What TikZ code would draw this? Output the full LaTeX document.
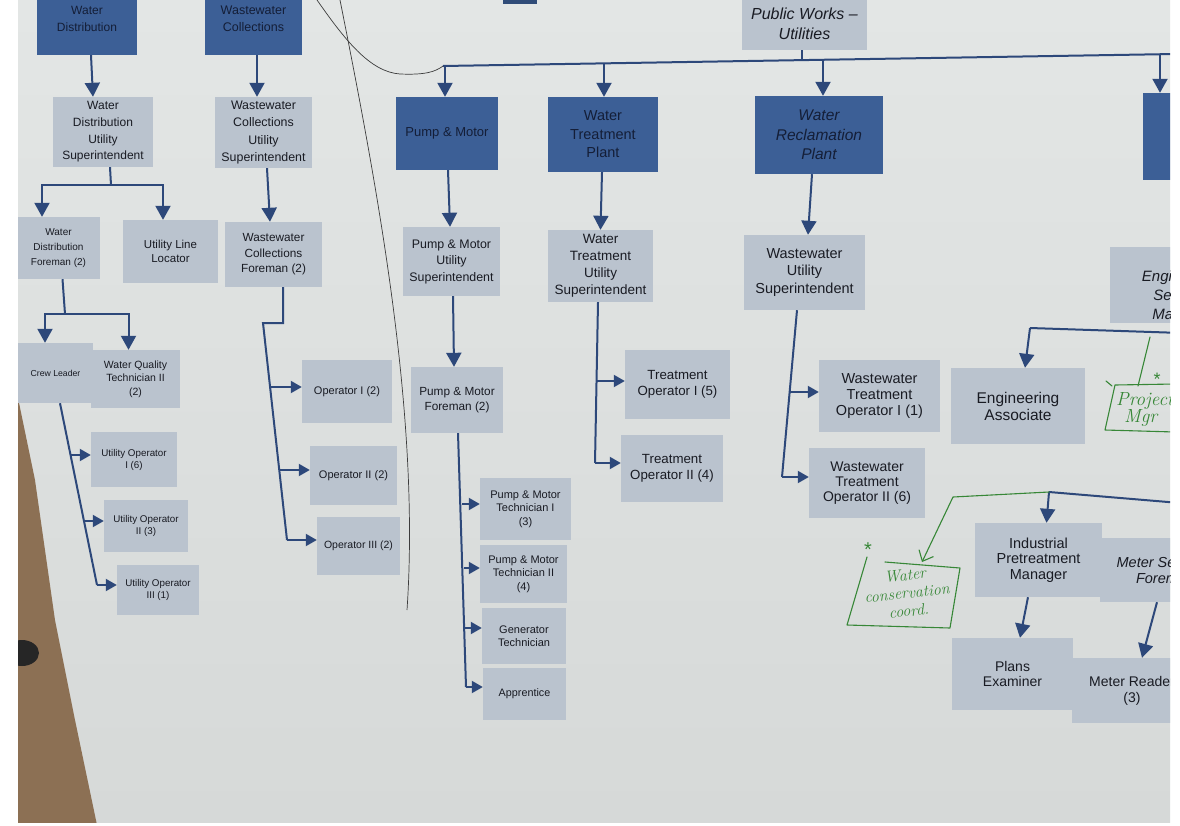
\documentclass[tikz,border=0pt]{standalone}
\usepackage{fontspec}
\setmainfont{Liberation Sans}
\usetikzlibrary{arrows.meta,calc}
\definecolor{paper}{RGB}{227,230,229}
\definecolor{paperlo}{RGB}{214,217,216}
\definecolor{lbox}{RGB}{186,195,206}
\definecolor{dbox}{RGB}{60,95,150}
\definecolor{lnc}{RGB}{45,72,122}
\definecolor{txt}{RGB}{25,27,35}
\definecolor{dtxt}{RGB}{20,30,55}
\definecolor{grn}{RGB}{55,135,55}
\definecolor{brn}{RGB}{140,112,84}
\definecolor{pencil}{RGB}{60,60,60}
\tikzset{
  lb/.style={fill=lbox, draw=none, inner sep=1pt, align=center, text=txt},
  db/.style={fill=dbox, draw=none, inner sep=1pt, align=center, text=dtxt},
  fs/.style 2 args={font=\fontsize{#1}{#2}\selectfont},
  fsi/.style 2 args={font=\fontsize{#1}{#2}\selectfont\itshape},
  conn/.style={draw=lnc, line width=2pt},
  arrL/.style={conn, -{Triangle[width=15pt,length=14pt]}},
  arrS/.style={conn, -{Triangle[width=12pt,length=11pt]}},
  hand/.style={draw=grn, line width=1.1pt, line cap=round, line join=round},
  handtext/.style={text=grn, font=\fontfamily{lmr}\fontsize{16}{18}\selectfont\itshape, align=center, inner sep=0pt},
  pen/.style={draw=pencil, line width=0.7pt},
}
\newcommand\obox[7]{\node[#6, minimum width={(#4)-(#2)}, minimum height={(#5)-(#3)}] (#1) at ({((#2)+(#4))/2},{((#3)+(#5))/2}) {#7};}
\begin{document}
\begin{tikzpicture}[x=1pt,y=-1pt]
\useasboundingbox (0,0) rectangle (1180,825);
\fill[white] (0,0) rectangle (1180,825);
\begin{scope}
\clip (18,0) rectangle (1170,822);
\shade[top color=paper, bottom color=paperlo] (18,0) rectangle (1170,822);
% cardboard
\fill[brn] (18,398) -- (35,480) -- (55,620) -- (75,720) -- (97,825) -- (18,825) -- cycle;
\fill[black!85] (22,653) ellipse [x radius=17, y radius=13];
% pencil marks
\draw[pen] (340,0) .. controls (380,200) and (420,420) .. (407,610);
\fill[dbox!80!black] (503,0) rectangle (537,4);

% ---------- boxes ----------
\obox{wd}{37}{-18}{137}{55}{db,fs={12}{17}}{Water\\Distribution}
\obox{wc}{205}{-18}{302}{55}{db,fs={12.5}{17}}{Wastewater\\Collections}
\obox{wdsup}{53}{97}{153}{167}{lb,fs={12}{16.7}}{Water\\Distribution\\Utility\\Superintendent}
\obox{wcsup}{215}{97}{312}{168}{lb,fs={12.4}{17.5}}{Wastewater\\Collections\\Utility\\Superintendent}
\obox{wdfor}{17}{217}{100}{279}{lb,fs={10}{15}}{Water\\Distribution\\Foreman (2)}
\obox{ull}{123}{220}{218}{283}{lb,fs={11.5}{14.5}}{Utility Line\\Locator}
\obox{wcfor}{225}{222}{322}{287}{lb,fs={11.8}{15.5}}{Wastewater\\Collections\\Foreman (2)}
\obox{crew}{18}{343}{93}{403}{lb,fs={8.7}{11}}{Crew Leader}
\obox{wqt}{91}{350}{180}{408}{lb,fs={10.5}{13.3}}{Water Quality\\Technician II\\(2)}
\obox{uo1}{91}{432}{177}{487}{lb,fs={9.8}{12}}{Utility Operator\\I (6)}
\obox{uo2}{104}{500}{188}{552}{lb,fs={9.8}{12}}{Utility Operator\\II (3)}
\obox{uo3}{117}{565}{199}{615}{lb,fs={9.8}{12}}{Utility Operator\\III (1)}
\obox{op1}{302}{360}{392}{423}{lb,fs={11}{14}}{Operator I (2)}
\obox{op2}{310}{446}{397}{505}{lb,fs={11}{14}}{Operator II (2)}
\obox{op3}{317}{517}{400}{575}{lb,fs={10.5}{14}}{Operator III (2)}

\obox{pw}{742}{-2}{867}{50}{lb,fsi={16}{20}}{Public Works --\\Utilities}
\obox{pm}{396}{97}{498}{170}{db,fs={13}{18}}{Pump \& Motor}
\obox{wtp}{548}{97}{658}{172}{db,fs={14.5}{18.5}}{Water\\Treatment\\Plant}
\obox{wrp}{755}{96}{883}{174}{db,fsi={15.5}{19.5}}{Water\\Reclamation\\Plant}
\obox{rdark}{1143}{93}{1250}{180}{db}{}
\obox{pmsup}{403}{227}{500}{296}{lb,fs={12.4}{16.5}}{Pump \& Motor\\Utility\\Superintendent}
\obox{wtsup}{548}{230}{653}{302}{lb,fs={13.5}{17}}{Water\\Treatment\\Utility\\Superintendent}
\obox{wwsup}{744}{235}{865}{310}{lb,fs={14.5}{17.5}}{Wastewater\\Utility\\Superintendent}
\obox{esm}{1110}{247}{1250}{323}{lb}{}
\node[fsi={15}{19}, align=center, text=txt] (esmt) at (1182,297) {Engineering\\Services\\Manager};
\obox{pmfor}{411}{367}{503}{433}{lb,fs={11.8}{14.5}}{Pump \& Motor\\Foreman (2)}
\obox{pmt1}{480}{478}{571}{540}{lb,fs={11}{13.5}}{Pump \& Motor\\Technician I\\(3)}
\obox{pmt2}{480}{545}{567}{603}{lb,fs={11}{13.5}}{Pump \& Motor\\Technician II\\(4)}
\obox{gen}{482}{608}{566}{664}{lb,fs={11}{13}}{Generator\\Technician}
\obox{app}{483}{668}{566}{720}{lb,fs={10.8}{13}}{Apprentice}
\obox{to1}{625}{350}{730}{419}{lb,fs={13.3}{16}}{Treatment\\Operator I (5)}
\obox{to2}{621}{435}{723}{502}{lb,fs={13.3}{16}}{Treatment\\Operator II (4)}
\obox{wwto1}{819}{360}{940}{432}{lb,fs={14.5}{16}}{Wastewater\\Treatment\\Operator I (1)}
\obox{wwto2}{809}{448}{925}{518}{lb,fs={14}{15}}{Wastewater\\Treatment\\Operator II (6)}
\obox{ea}{951}{368}{1085}{444}{lb,fs={15.5}{17}}{Engineering\\Associate}
\obox{ipm}{975}{523}{1102}{597}{lb,fs={14.5}{15.5}}{Industrial\\Pretreatment\\Manager}
\obox{msf}{1100}{538}{1230}{602}{lb,fsi={14.5}{16}}{Meter Services\\Foreman}
\obox{pe}{952}{638}{1073}{710}{lb,fs={14}{15}}{Plans\\Examiner}
\obox{mr}{1072}{658}{1192}{723}{lb,fs={14}{16}}{Meter Reader\\(3)}

% ---------- connectors ----------
% left columns
\draw[arrL] ([xshift=4pt]wd.south) -- ([xshift=-10pt]wdsup.north);
\draw[arrL] ([xshift=3.5pt]wc.south) -- ([xshift=-6.5pt]wcsup.north);
\coordinate (j1) at (111,185);
\draw[conn] ([xshift=7pt]wdsup.south) -- (j1);
\draw[arrL] (j1) -| ([xshift=-16.5pt]wdfor.north);
\draw[arrL] (j1) -| ([xshift=-7.5pt]ull.north);
\draw[arrL] ([xshift=3.5pt]wcsup.south) -- ([xshift=-3.5pt]wcfor.north);
\coordinate (j2) at (65,314);
\draw[conn] ([xshift=4pt]wdfor.south) -- (j2);
\draw[arrL] (j2) -| ([xshift=-10.5pt]crew.north);
\draw[arrL] (j2) -| ([xshift=-7pt]wqt.north);
\coordinate (b1) at (70.6,455);
\coordinate (b2) at (84,521);
\coordinate (b3) at (97,585);
\draw[conn] ([xshift=4.5pt]crew.south) -- (b3);
\draw[arrS] (b1) -- (b1 -| uo1.west);
\draw[arrS] (b2) -- (b2 -| uo2.west);
\draw[arrS] (b3) -- (b3 -| uo3.west);
\coordinate (j3) at (283,323);
\coordinate (j4) at (263,323);
\coordinate (c1) at (270,387);
\coordinate (c2) at (279.3,470);
\coordinate (c3) at (287,540);
\draw[conn] ([xshift=9.5pt]wcfor.south) -- (j3) -- (j4) -- (c3);
\draw[arrS] (c1) -- (c1 -| op1.west);
\draw[arrS] (c2) -- (c2 -| op2.west);
\draw[arrS] (c3) -- (c3 -| op3.west);

% top bar
\coordinate (tl) at (443,66);
\coordinate (tr) at (1175,54);
\coordinate (j5) at (802,60);
\draw[conn] (pw.south -| j5) -- (j5);
\draw[conn] (tl) -- (tr);
\draw[pen] (317,0) .. controls (345,40) and (370,72) .. (400,74) .. controls (425,75) and (435,72) .. (tl);
\coordinate (t1) at (445,66);
\coordinate (t2) at (604,63.4);
\coordinate (t3) at (823,59.7);
\coordinate (t4) at (1160,54.2);
\draw[arrL] (t1) -- (t1 |- pm.north);
\draw[arrL] (t2) -- (t2 |- wtp.north);
\draw[arrL] (t3) -- (t3 |- wrp.north);
\draw[arrL] (t4) -- (t4 |- rdark.north);
\draw[arrL] ([xshift=1pt]pm.south) -- ([xshift=-1.5pt]pmsup.north);
\draw[arrL] ([xshift=-1pt]wtp.south) -- (wtsup.north);
\draw[arrL] ([xshift=-7pt]wrp.south) -- ([xshift=3.5pt]wwsup.north);

% pump & motor
\draw[arrL] ([xshift=1.5pt]pmsup.south) -- ([xshift=-3pt]pmfor.north);
\coordinate (p1) at (462,504);
\coordinate (p2) at (464,568);
\coordinate (p3) at (465,628);
\coordinate (p4) at (466,687);
\draw[conn] ([xshift=1pt]pmfor.south) -- (p4);
\draw[arrS] (p1) -- (p1 -| pmt1.west);
\draw[arrS] (p2) -- (p2 -| pmt2.west);
\draw[arrS] (p3) -- (p3 -| gen.west);
\draw[arrS] (p4) -- (p4 -| app.west);

% water treatment
\coordinate (w1) at (597,381);
\coordinate (w2) at (595,463);
\draw[conn] ([xshift=-2.5pt]wtsup.south) -- (w2);
\draw[arrS] (w1) -- (w1 -| to1.west);
\draw[arrS] (w2) -- (w2 -| to2.west);

% wastewater
\coordinate (r1) at (789.6,392);
\coordinate (r2) at (782,477);
\draw[conn] ([xshift=-7.5pt]wwsup.south) -- (r2);
\draw[arrS] (r1) -- (r1 -| wwto1.west);
\draw[arrS] (r2) -- (r2 -| wwto2.west);

% engineering
\coordinate (e1) at (1030,328);
\coordinate (e2) at (1182,333);
\draw[conn] (esm.south -| e2) -- (e2) -- (e1);
\draw[arrL] (e1) -- ([xshift=7pt]ea.north);
\coordinate (f1) at (1049,492);
\coordinate (f2) at (1180,503);
\draw[conn] (f2) -- (f1);
\draw[arrL] (f1) -- ([xshift=8pt]ipm.north);
\draw[arrL] ([xshift=-10.5pt]ipm.south) -- ([xshift=7.5pt]pe.north);
\draw[arrL] ([xshift=-8pt]msf.south) -- ([xshift=10pt]mr.north);

% ---------- handwritten additions ----------
\coordinate (g1) at (953,497);
\coordinate (g2) at (922,562);
\draw[hand, -{Straight Barb[length=9pt,width=16pt]}] (f1) -- (g1) -- (g2);
\draw[hand] (867,557) -- (847,625) -- (950,628) -- (960,568) -- (885,562);
\node[handtext, rotate=6] (wcc) at (907,593) {Water\\conservation\\coord.};
\node[text=grn, font=\fontsize{20}{20}\selectfont] (ast1) at (868,550) {*};
\coordinate (h1) at (1150,337);
\draw[hand] (h1) -- (1138,386);
\draw[hand] (1175,384) -- (1115,385) -- (1105,430) -- (1175,432);
\draw[hand] (1106,381) -- (1112,386);
\node[text=grn, font=\fontsize{18}{18}\selectfont] (ast2) at (1157,379) {*};
\node[handtext, font=\fontfamily{lmr}\fontsize{19}{17}\selectfont\itshape, anchor=north west, align=left] (pmgr) at (1116,392) {Project\\\hspace*{8pt}Mgr};
\end{scope}
\end{tikzpicture}
\end{document}
